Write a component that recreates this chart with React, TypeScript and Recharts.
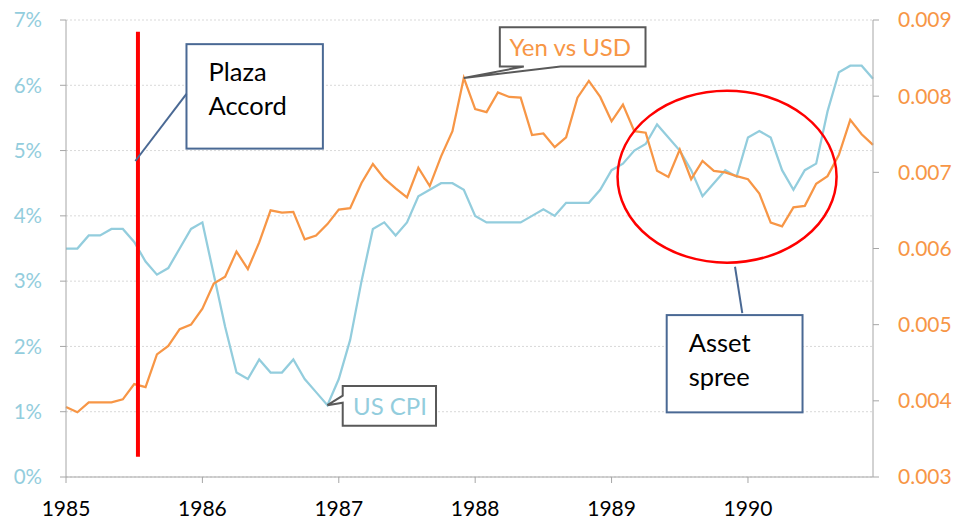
import React from 'react';
import {
  LineChart,
  Line,
  XAxis,
  YAxis,
  CartesianGrid,
  ReferenceLine,
  ReferenceArea,
  ReferenceDot,
} from 'recharts';

// Monthly, Jan 1985 .. Dec 1990
const years = [1985, 1986, 1987, 1988, 1989, 1990];

// US CPI, % year on year
const usCpi = [
  3.5, 3.5, 3.7, 3.7, 3.8, 3.8, 3.6, 3.3, 3.1, 3.2, 3.5, 3.8,
  3.9, 3.1, 2.3, 1.6, 1.5, 1.8, 1.6, 1.6, 1.8, 1.5, 1.3, 1.1,
  1.5, 2.1, 3.0, 3.8, 3.9, 3.7, 3.9, 4.3, 4.4, 4.5, 4.5, 4.4,
  4.0, 3.9, 3.9, 3.9, 3.9, 4.0, 4.1, 4.0, 4.2, 4.2, 4.2, 4.4,
  4.7, 4.8, 5.0, 5.1, 5.4, 5.2, 5.0, 4.7, 4.3, 4.5, 4.7, 4.6,
  5.2, 5.3, 5.2, 4.7, 4.4, 4.7, 4.8, 5.6, 6.2, 6.3, 6.3, 6.1,
];

// USD per yen
const yenVsUsd = [
  0.00392, 0.00385, 0.00398, 0.00398, 0.00398, 0.00402, 0.00422, 0.00418, 0.00461, 0.00472, 0.00494, 0.005,
  0.00521, 0.00554, 0.00563, 0.00596, 0.00573, 0.00608, 0.0065, 0.00647, 0.00648, 0.00612, 0.00617, 0.00632,
  0.00651, 0.00653, 0.00686, 0.00711, 0.00692, 0.00679, 0.00667, 0.00706, 0.00682, 0.00721, 0.00754, 0.00824,
  0.00783, 0.00779, 0.00805, 0.00799, 0.00798, 0.00749, 0.00751, 0.00733, 0.00746, 0.00798, 0.0082, 0.00799,
  0.00767, 0.00789, 0.00754, 0.00752, 0.00702, 0.00694, 0.0073, 0.00691, 0.00715, 0.00702, 0.007, 0.00695,
  0.00691, 0.00672, 0.00634, 0.00629, 0.00654, 0.00656, 0.00685, 0.00695, 0.00723, 0.00769, 0.0075, 0.00736,
];

const leftTicks = [0, 1, 2, 3, 4, 5, 6, 7];
const rightTicks = [0.003, 0.004, 0.005, 0.006, 0.007, 0.008, 0.009];

const data = usCpi.map((cpi, i) => ({ m: i, cpi, yen: yenVsUsd[i] }));
const yearTicks = years.map((y) => (y - years[0]) * 12);

const BLUE = '#93CDDD';
const ORANGE = '#F79646';
const NAVY = '#4A6994';
const GREY_AXIS = '#A6A6A6';
const FONT = 'Lato, "Open Sans", sans-serif';

const textBox = (lines: string[]) => (p: any) => (
  <g>
    <rect x={p.x} y={p.y} width={p.width} height={p.height} fill="#fff" stroke={NAVY} strokeWidth={2} />
    {lines.map((t, k) => (
      <text key={t} x={p.x + 22} y={p.y + 37 + k * 34} fontSize={25.5} fill="#000" fontFamily={FONT}>
        {t}
      </text>
    ))}
  </g>
);

const yenCallout = (p: any) => {
  const { cx, cy } = p;
  const d = `M${cx + 36} ${cy - 50.6} H${cx + 181.7} V${cy - 11.3} H${cx + 96.7} L${cx} ${cy} L${cx + 60} ${cy - 11.3} H${cx + 36} Z`;
  return (
    <g>
      <path d={d} fill="#fff" stroke="#595959" strokeWidth={2} />
      <text x={cx + 45.7} y={cy - 21.6} fontSize={24} fill={ORANGE} fontFamily={FONT}>Yen vs USD</text>
    </g>
  );
};

const cpiCallout = (p: any) => {
  const { cx, cy } = p;
  const d = `M${cx + 15.3} ${cy - 19.2} H${cx + 108.6} V${cy + 20.5} H${cx + 15.3} V${cy - 2.5} L${cx} ${cy} L${cx + 15.3} ${cy - 9.5} Z`;
  return (
    <g>
      <path d={d} fill="#fff" stroke="#595959" strokeWidth={2} />
      <text x={cx + 25.6} y={cy + 10} fontSize={24} fill={BLUE} fontFamily={FONT}>US CPI</text>
    </g>
  );
};

const ring = (p: any) => (
  <ellipse cx={p.cx} cy={p.cy} rx={109.5} ry={86} fill="none" stroke="#FF0000" strokeWidth={2.5} />
);

export default function App() {
  return (
    <div style={{ position: 'absolute', left: 0, top: 0, background: '#fff' }}>
      <LineChart
        width={958}
        height={519}
        data={data}
        margin={{ top: 20, right: 0, bottom: 0, left: 0 }}
        style={{ fontFamily: FONT }}
      >
        <CartesianGrid yAxisId="left" vertical={false} stroke="#D9D9D9" strokeDasharray="2 2" />
        <XAxis
          dataKey="m"
          type="number"
          domain={[0, 71]}
          ticks={yearTicks}
          tickFormatter={(v: number) => String(years[0] + v / 12)}
          height={42}
          stroke={GREY_AXIS}
          tickSize={6}
          tickMargin={18}
          tick={{ fill: '#000', fontSize: 21 }}
        />
        <YAxis
          yAxisId="left"
          domain={[0, 7]}
          ticks={leftTicks}
          tickFormatter={(v: number) => `${v}%`}
          width={66}
          stroke={GREY_AXIS}
          tickSize={6}
          tickMargin={18}
          tick={{ fill: BLUE, fontSize: 20.5 }}
        />
        <YAxis
          yAxisId="right"
          orientation="right"
          domain={[0.003, 0.009]}
          ticks={rightTicks}
          tickFormatter={(v: number) => v.toFixed(3)}
          width={85}
          stroke={GREY_AXIS}
          tickSize={6}
          tickMargin={19}
          tick={{ fill: ORANGE, fontSize: 21 }}
        />
        <Line yAxisId="left" dataKey="cpi" stroke={BLUE} strokeWidth={2.25} dot={false} isAnimationActive={false} />
        <Line yAxisId="right" dataKey="yen" stroke={ORANGE} strokeWidth={2.25} dot={false} isAnimationActive={false} />

        <ReferenceLine
          yAxisId="left"
          segment={[{ x: 6.33, y: 0.31 }, { x: 6.33, y: 6.82 }]}
          stroke="#FF0000"
          strokeWidth={4}
        />
        <ReferenceLine
          yAxisId="left"
          segment={[{ x: 10.6, y: 5.87 }, { x: 6.1, y: 4.84 }]}
          stroke={NAVY}
          strokeWidth={2}
        />
        <ReferenceArea yAxisId="left" x1={10.6} x2={22.6} y1={5.03} y2={6.63} shape={textBox(['Plaza', 'Accord'])} />

        <ReferenceDot yAxisId="left" x={58.16} y={4.6} r={1} shape={ring} />
        <ReferenceLine
          yAxisId="left"
          segment={[{ x: 58.86, y: 3.22 }, { x: 59.5, y: 2.51 }]}
          stroke={NAVY}
          strokeWidth={2}
        />
        <ReferenceArea yAxisId="left" x1={52.85} x2={64.8} y1={0.99} y2={2.48} shape={textBox(['Asset', 'spree'])} />

        <ReferenceDot yAxisId="right" x={35} y={yenVsUsd[35]} r={1} shape={yenCallout} />
        <ReferenceDot yAxisId="left" x={23} y={usCpi[23]} r={1} shape={cpiCallout} />
      </LineChart>
    </div>
  );
}
